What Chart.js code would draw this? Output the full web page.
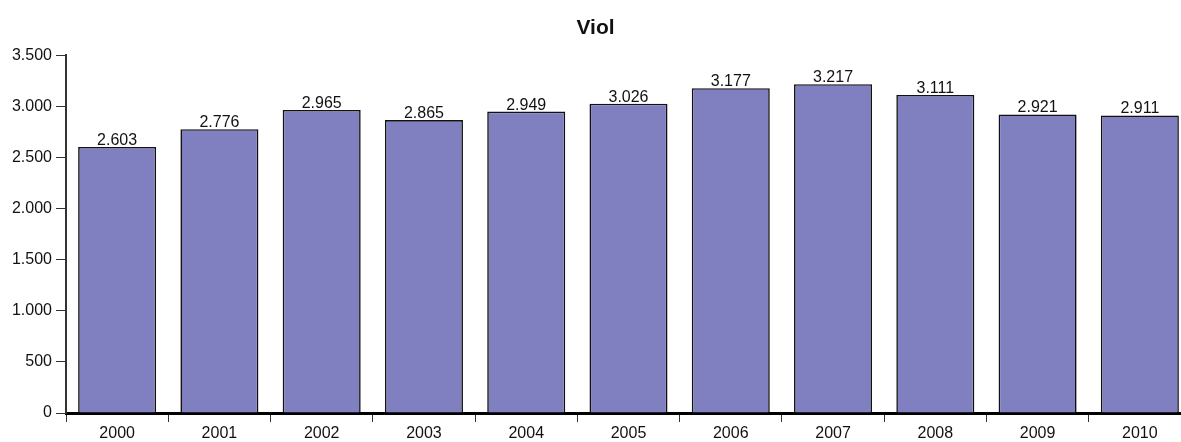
<!DOCTYPE html>
<html>
<head>
<meta charset="utf-8">
<script src="https://cdn.jsdelivr.net/npm/chart.js@4"></script>
<style>
  html, body { margin: 0; padding: 0; background: #fff; overflow: hidden; }
  #wrap { width: 1200px; height: 442px; }
</style>
</head>
<body>
<div id="wrap"><canvas id="chart" width="1200" height="442"></canvas></div>
<script>
// données
const years  = ['2000','2001','2002','2003','2004','2005','2006','2007','2008','2009','2010'];
const values = [2603, 2776, 2965, 2865, 2949, 3026, 3177, 3217, 3111, 2921, 2911];
const yTicks = [0, 500, 1000, 1500, 2000, 2500, 3000, 3500];

const fmt = v => String(v).replace(/\B(?=(\d{3})+(?!\d))/g, '.');
const FONT = "'Liberation Sans', Arial, sans-serif";

// étiquettes au-dessus des barres
const barLabels = {
  id: 'barLabels',
  afterDatasetsDraw(chart) {
    const c = chart.ctx;
    const meta = chart.getDatasetMeta(0);
    c.save();
    c.font = '16px ' + FONT;
    c.fillStyle = '#111';
    c.textAlign = 'center';
    c.textBaseline = 'alphabetic';
    meta.data.forEach((bar, i) => {
      c.fillText(fmt(values[i]), bar.x, bar.y - 2);
    });
    c.restore();
  }
};

new Chart(document.getElementById('chart'), {
  type: 'bar',
  data: {
    labels: years,
    datasets: [{
      data: values,
      backgroundColor: '#8080C0',
      borderColor: '#111',
      borderWidth: 1.6,
      barPercentage: 0.763,
      categoryPercentage: 1
    }]
  },
  plugins: [barLabels],
  options: {
    responsive: false,
    animation: false,
    layout: { padding: { left: 0, right: 9, top: 0, bottom: 0 } },
    plugins: {
      legend: { display: false },
      tooltip: { enabled: false },
      title: {
        display: true,
        text: 'Viol',
        color: '#111',
        font: { family: FONT, size: 21, weight: 'bold', lineHeight: 1.2 },
        padding: { top: 16, bottom: 14 }
      }
    },
    scales: {
      x: {
        grid: { offset: true, drawOnChartArea: false, drawTicks: true, tickLength: 9, color: '#333', lineWidth: 1 },
        border: { display: true, color: '#000', width: 3 },
        ticks: { color: '#111', font: { family: FONT, size: 16 }, padding: 2, maxRotation: 0 },
        afterFit: s => { s.height = 29; }
      },
      y: {
        min: 0, max: 3500,
        afterBuildTicks: s => { s.ticks = yTicks.map(v => ({ value: v })); },
        grid: { drawOnChartArea: false, drawTicks: true, tickLength: 10, color: '#333' },
        border: { display: true, color: '#333', width: 2 },
        ticks: { color: '#111', font: { family: FONT, size: 16 }, padding: 4, callback: v => fmt(v) },
        afterFit: s => { s.width = 66; }
      }
    }
  }
});
</script>
</body>
</html>
